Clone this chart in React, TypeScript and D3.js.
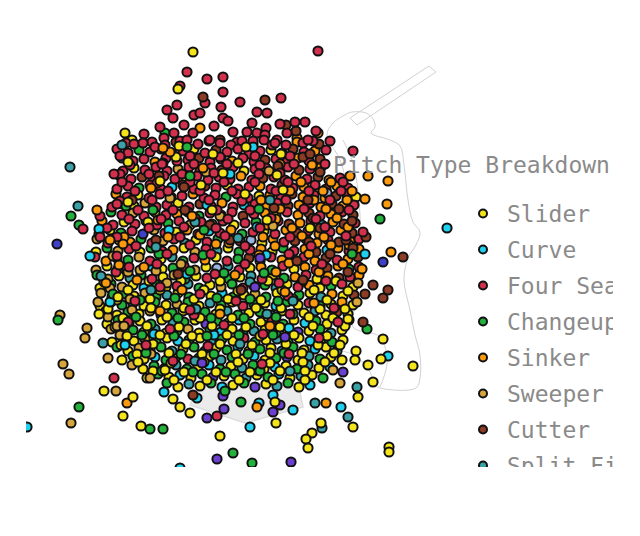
import { useEffect, useRef } from 'react';
import * as d3 from 'd3';

const WIDTH = 605;
const HEIGHT = 459;

const PITCH_TYPES = ['Slider', 'Curve', 'Four Seam', 'Changeup', 'Sinker', 'Sweeper', 'Cutter', 'Split Finger', 'Knuckle Curve', 'Slurve', 'Forkball'];
const PITCH_COLORS = ['#f5e31b', '#1fd0ef', '#d3304e', '#22b23c', '#fb9a0c', '#d6a53c', '#8c3b24', '#3aa1a7', '#6b40d0', '#3f40c9', '#98b5e2'];

// plate location (horizontal, height) per pitch type
const SLIDER = `
-11.8,36.0 -5.6,35.1 2.1,35.0 -11.6,33.2 -0.6,32.9 -6.4,32.2 -2.3,31.5
-11.2,30.5 0.9,30.4 10.6,30.3 -11.6,29.4 -7.2,29.7 -9.5,28.8 -2.9,28.5 2.6,28.4 -12.6,27.8 -1.6,27.5
-14.0,27.0 -7.4,26.8 1.4,26.9 -13.1,26.0 -5.4,26.0 1.2,25.7 -15.4,24.8 -11.0,24.8 -6.6,25.2 -2.2,25.2 2.2,24.8
-13.3,24.2 -8.9,24.1 -3.4,24.3 1.0,23.9 -14.3,23.4 -8.8,23.1 -4.4,23.3 0.0,23.2 4.4,23.1
-13.1,22.4 -8.7,22.3 -5.4,22.4 -1.0,22.3 2.3,22.5 6.7,22.1
-15.0,21.2 -11.7,21.5 -8.4,21.3 -4.0,21.5 0.4,21.4 3.7,21.6 7.0,21.2 10.3,21.3
-13.8,20.3 -11.6,20.4 -7.2,20.7 -3.9,20.4 -0.6,20.5 2.7,20.7 6.0,20.7 9.3,20.4
-15.0,19.4 -10.6,19.4 -8.4,19.5 -5.1,19.4 -1.8,19.8 1.5,19.7 4.8,19.5 8.1,19.6 10.3,19.5
-13.3,18.5 -11.1,18.6 -6.7,18.9 -3.4,18.6 -0.1,18.7 3.2,18.9 5.4,18.7 7.6,18.5 9.8,18.6
-14.3,17.6 -11.0,17.9 -8.8,18.0 -5.5,18.0 -2.2,17.7 1.1,17.8 4.4,18.0 7.7,17.6 9.9,18.0
-12.8,16.7 -10.6,16.8 -8.4,16.7 -5.1,16.7 -1.8,17.1 1.5,17.0 3.7,17.1 5.9,16.9 9.2,17.0
-13.8,15.8 -11.6,15.9 -8.3,16.2 -5.0,16.2 -1.7,15.9 1.6,16.0 4.9,16.2 7.1,16.1 9.3,16.0
-12.2,14.9 -10.0,15.0 -6.7,15.1 -3.4,15.2 -0.1,14.9 2.1,15.2 5.4,15.0 7.6,15.3
-12.8,14.0 -10.6,14.1 -7.3,14.4 -4.0,14.4 -0.7,14.1 1.5,14.0 4.8,14.0 8.1,14.3 9.2,14.0
-10.7,13.1 -8.5,13.2 -5.2,13.3 -1.9,13.4 1.4,13.1 3.6,13.4 6.9,13.2
-10.3,12.2 -8.1,12.3 -5.9,12.2 -2.6,12.4 0.7,12.5 4.0,12.2 6.2,12.5
-7.2,11.3 -5.0,11.4 -1.7,11.5 1.6,11.6 4.9,11.3
-14.6,21.8 -10.1,21.9 -6.9,21.9 -3.0,21.9 1.8,21.9 5.2,21.8 8.6,21.9
-12.2,21.0 -9.0,21.0 -4.6,21.0 -1.2,20.9 3.2,21.0 6.4,21.0 9.8,20.9
-13.3,20.0 -10.0,20.1 -5.6,20.1 -2.2,20.1 1.1,20.0 4.3,20.1 7.7,20.0
-14.2,19.1 -9.9,19.2 -6.6,19.2 -3.0,19.1 0.6,19.2 3.1,19.2 7.0,19.1 9.5,19.1
-12.7,18.2 -8.3,18.3 -5.0,18.2 -1.8,18.2 1.8,18.3 5.9,18.3 8.3,18.2
-13.5,17.3 -10.3,17.4 -7.1,17.3 -3.8,17.4 -0.4,17.3 3.0,17.3 6.3,17.4 9.5,17.4
-12.3,16.4 -9.0,16.5 -5.8,16.4 -2.3,16.5 1.0,16.4 4.4,16.5 7.7,16.4
-12.9,15.5 -9.7,15.6 -6.4,15.6 -3.0,15.6 0.2,15.5 3.6,15.6 6.8,15.5 9.0,15.5
-11.3,14.6 -8.1,14.7 -4.8,14.6 -1.4,14.6 2.0,14.7 5.2,14.7 8.4,14.7
-11.2,13.8 -7.9,13.7 -4.6,13.8 -1.2,13.8 2.0,13.7 5.3,13.8 7.5,13.8
-9.7,12.9 -6.6,12.8 -3.4,12.8 0.0,12.8 3.0,12.9 5.5,12.9 -7.6,12.0 -4.3,12.0 -1.1,12.0 2.3,12.0 5.5,12.0
-9.0,31.9 -4.9,31.5 -0.5,30.6 3.3,31.0 -10.2,27.8 -3.8,29.0 1.7,28.0 6.0,27.2 -12.2,33.8 -7.4,34.3 -1.2,33.7 3.1,34.6
-5.7,44.8 -7.2,41.1 -12.5,36.7 -7.1,35.4 -3.7,34.6 -0.4,35.3 2.7,32.5 -2.7,32.7
9.8,18.1 13.3,16.1 13.1,14.1 11.8,13.5 16.3,13.4 10.6,14.9 10.5,14.0 12.3,11.8 10.8,10.3 10.3,7.3
13.9,5.3 13.9,4.8 7.1,7.7 6.2,6.7 5.6,6.1 5.8,5.2
2.6,7.7 -3.0,6.4 2.5,9.8 -7.7,10.1 -7.0,9.3 -6.0,8.7 -8.5,13.0 -10.9,7.4 -12.7,8.4 -11.7,10.3 -14.6,10.9
-12.2,29.8 -13.2,20.3 -15.1,18.6`;

const CURVE = `
-12.8,34.2 -7.8,31.3 -0.6,29.5 7.2,27.5 -4.1,26.9 7.7,25.0 -9.9,23.4 -10.6,21.2 -2.8,20.7
2.6,19.4 -8.9,18.5 -1.1,18.0 5.5,17.7 -2.9,16.8 -7.2,15.9 6.0,15.9 -1.2,15.3 6.5,15.1 -9.5,14.3
0.4,14.4 -4.1,13.5 2.5,13.3 8.0,13.3 -7.0,12.5 2.9,12.6 -2.8,11.3 6.0,11.5 -8.7,33.7 0.3,35.3
-6.3,22.6 3.9,17.2 -3.6,16.5 0.7,13.0 -9.6,16.6 -4.3,29.5 0.7,27.3 -8.1,27.0 -2.0,32.6 1.6,24.5
19.7,27.2 11.5,24.6 13.8,14.4 9.1,9.3 4.3,9.0 0.0,7.3 -7.0,3.2 2.3,10.5 0.9,9.7 -5.3,10.2 -8.6,10.8
-22.3,7.3 -15.1,27.1 -16.0,24.4 -14.0,19.8 -12.5,15.5`;

const FOUR_SEAM = `
-8.3,39.0 -7.3,39.5 -7.7,38.2 -5.6,38.5 -5.0,38.7 -4.5,39.7 -2.9,39.3 -2.7,38.2 -1.0,39.8 3.1,40.2
0.7,38.8 1.7,38.7 4.5,37.8 5.5,37.8 6.6,36.9 -1.7,36.8 0.2,37.7 -0.3,36.8 0.7,36.7 -5.7,36.7
-4.0,36.0 -1.3,35.8 -9.8,35.8 -7.6,36.7 -12.4,35.7 -11.6,35.6 3.7,36.7 5.3,35.7 2.7,36.0 2.2,35.5
6.8,44.9 -6.3,42.8 -4.3,42.1 -2.7,42.3 -7.0,41.4 -2.7,40.8
-10.6,36.6 -9.0,37.3 -3.6,37.4 -2.2,37.9 1.6,37.2 3.0,37.6 -6.6,37.5 -8.6,36.2 -7.0,35.9 0.3,35.9 1.5,36.5 6.3,35.9
-10.7,35.7 -8.5,35.5 -6.3,36.0 -5.2,35.6 -3.0,35.7 -1.9,35.5 -0.8,35.9 1.4,36.0 2.5,35.7 3.6,35.5 5.8,36.0 8.0,35.9
-13.3,35.1 -12.2,34.7 -10.0,34.8 -8.9,35.1 -7.8,34.6 -6.7,34.9 -4.5,34.7 -2.3,34.8 -1.2,35.1 -0.1,34.6 1.0,34.9 3.2,34.7 5.4,34.8 7.6,35.0
-11.7,33.9 -10.6,34.1 -8.4,34.2 -7.3,33.9 -6.2,34.0 -4.0,33.8 -2.9,34.1 -0.7,34.2 0.4,33.8 2.6,34.1 3.7,33.8 5.9,33.9
-12.7,32.9 -10.5,33.0 -9.4,33.3 -8.3,32.9 -6.1,33.3 -5.0,32.9 -3.9,33.2 -1.7,33.3 0.5,33.1 1.6,33.2 3.8,33.3 6.0,33.1
-11.9,32.1 -9.7,32.0 -8.6,32.4 -7.5,32.1 -5.3,32.4 -4.2,32.0 -3.1,32.3 -2.0,32.1 0.2,32.0 2.4,32.3 3.5,32.0 5.7,32.1 9.0,32.2
-13.3,31.1 -12.2,31.4 -10.0,31.5 -8.9,31.1 -6.7,31.5 -5.6,31.1 -3.4,31.2 -1.2,31.1 -0.1,31.3 2.1,31.1 4.3,31.2 6.5,31.5 9.8,31.2
-12.3,30.3 -10.1,30.2 -9.0,30.6 -6.8,30.4 -4.6,30.2 -3.5,30.5 -1.3,30.6 -0.2,30.2 3.1,30.2 6.4,30.5 9.7,30.6
-13.8,29.3 -12.7,29.6 -9.4,29.3 -8.3,29.5 -6.1,29.3 -3.9,29.4 -1.7,29.3 0.5,29.6 2.7,29.7 6.0,29.7 10.4,29.5
-15.0,28.4 -12.8,28.5 -10.6,28.4 -8.4,28.5 -6.2,28.8 -4.0,28.7 -1.8,28.8 0.4,28.6 3.7,28.8 7.0,28.4 9.2,28.8
-13.7,27.5 -11.5,27.6 -9.3,27.5 -7.1,27.9 -4.9,27.8 -2.7,27.9 -0.5,27.7 2.8,27.9 6.1,27.9 10.5,27.7
-15.1,26.6 -11.8,26.9 -8.5,26.7 -5.2,26.6 -3.0,26.7 0.3,26.8 2.5,26.6 5.8,26.9 8.0,26.8
-14.2,25.7 -9.8,25.7 -7.6,26.1 -4.3,25.8 -1.0,25.9 3.4,25.8 7.8,26.0 10.9,26.1
-12.1,25.1 -8.8,24.9 -4.4,25.1 0.0,25.0 4.4,24.9 9.9,24.9
-15.5,24.3 -10.0,23.9 -5.6,24.2 -2.3,23.9 2.1,24.3 5.4,24.3 8.7,24.0
-12.1,23.3 -6.6,23.4 -1.1,23.0 3.3,23.4 6.6,23.0 10.9,23.3
-9.8,22.1 -4.3,22.2 1.2,22.1 5.6,22.5 10.0,22.3 -7.3,21.4 -0.7,21.2 4.8,21.3 9.2,21.6
-5.0,20.6 3.8,20.4 -0.7,19.4 5.9,19.7 -5.6,18.5 2.2,17.9 8.8,17.8 -0.6,16.2 -6.2,14.1
-13.0,34.4 -9.5,35.3 -6.0,34.4 -3.0,34.3 0.5,34.4 4.0,34.4
-12.0,33.5 -8.8,33.6 -5.6,33.6 -2.3,33.6 1.0,33.5 4.4,33.6 7.5,33.6
-13.0,32.6 -10.1,32.6 -6.8,32.6 -3.6,32.7 0.9,32.6 3.0,32.7
-12.8,31.8 -9.3,31.7 -6.0,31.8 -2.6,31.8 0.5,31.8 3.8,31.8 9.3,31.8
-11.5,30.9 -8.2,30.9 -5.0,30.9 -1.8,30.9 2.6,30.9 5.9,30.9 9.1,30.9
-13.0,29.9 -9.8,30.0 -4.1,30.0 -0.8,29.9 3.6,30.0 8.0,30.0
-11.2,29.0 -7.7,29.0 -3.3,29.0 0.0,29.0 5.4,29.1 9.9,29.0
-12.1,28.1 -8.9,28.1 -5.5,28.2 -2.2,28.1 2.1,28.2 6.6,28.1
-14.3,27.2 -10.1,27.2 -6.6,27.3 -3.4,27.2 1.0,27.2 7.5,27.3
-13.3,26.3 -7.0,26.3 -2.5,26.4 4.0,26.3 9.6,26.4 -11.4,25.4 -6.0,25.5 -0.5,25.4 6.1,25.4
-8.3,24.6 -3.9,24.6 3.9,24.6 -9.3,23.6 -0.5,23.6 7.2,23.6
-9.0,21.3 -3.5,22.6 2.9,21.7 7.6,21.9 -11.5,19.9 -6.0,19.0 -1.4,19.9 4.0,18.6 8.4,19.2 -8.0,17.1
-2.6,17.5 1.3,16.6 6.9,16.2 -10.4,15.5 -4.2,15.4 3.9,14.6 -7.7,13.9 1.2,13.6 -12.2,17.8 -13.4,22.8
11.3,26.8 10.3,34.9 -3.3,8.4 -13.6,12.2 -13.6,32.6 -16.7,27.1 -15.0,26.3 -13.3,29.6 -13.3,24.4`;

const CHANGEUP = `
-8.5,36.7 -11.1,35.0 -11.1,31.2 -2.4,30.3 -13.9,28.8 -5.1,28.4 -8.2,27.7 0.6,27.8 -12.9,26.7 -0.8,26.6
-10.9,26.1 -3.2,26.1 5.6,26.1 -14.3,25.2 -9.9,25.2 -1.1,24.8 3.3,25.2 -12.2,24.0 -6.7,23.9 -1.2,24.1
-13.2,23.1 -7.7,23.2 -3.3,23.1 2.2,23.0 9.9,23.1 -15.3,22.5 -10.9,22.5 -6.5,22.1 -2.1,22.1 3.4,22.2
-13.9,21.6 -9.5,21.6 -5.1,21.2 -1.8,21.6 1.5,21.5 8.1,21.4 -12.7,20.6 -9.4,20.3 -6.1,20.3 -1.7,20.3 1.6,20.3 4.9,20.5
-12.8,19.5 -9.5,19.8 -6.2,19.8 -2.9,19.5 0.4,19.6 3.7,19.8 7.0,19.4 -12.2,18.8 -7.8,18.7 -4.5,18.8 -1.2,18.5 1.0,18.8 4.3,18.6
-13.2,18.0 -9.9,17.6 -6.6,17.8 -3.3,17.9 0.0,17.6 3.3,17.6 6.6,17.9 -11.7,17.0 -7.3,16.9 -4.0,17.0 -0.7,16.7 2.6,16.7 7.0,17.1
-12.7,16.2 -9.4,15.8 -6.1,16.0 -2.8,16.1 0.5,15.8 3.8,15.8 8.2,15.8 -13.3,15.3 -8.9,15.3 -5.6,15.3 -2.3,15.0 1.0,15.1 4.3,15.3
-11.7,14.4 -8.4,14.0 -5.1,14.2 -1.8,14.3 2.6,14.2 7.0,14.1 -9.6,13.4 -6.3,13.1 -3.0,13.1 0.3,13.5 4.7,13.1
-9.2,12.6 -4.8,12.6 -1.5,12.6 1.8,12.3 7.3,12.2 -8.3,11.7 -3.9,11.7 -0.6,11.7 3.8,11.7
-11.0,20.0 -7.5,20.2 -3.3,20.2 0.0,20.1 2.8,19.9 -11.4,18.3 -7.2,18.2 -3.9,18.2 -0.6,18.2 2.6,18.3
-10.8,16.5 -7.6,16.4 -4.3,16.4 -1.1,16.5 2.3,16.5 -10.4,14.7 -6.9,14.6 -3.6,14.6 -0.2,14.6 3.4,14.7
-8.8,12.9 -5.7,12.8 -2.4,12.8 1.0,12.9 -6.0,22.9 -2.6,22.7 1.4,22.7 -9.1,24.6 -4.7,24.5
-9.7,29.0 -4.6,27.0 0.9,29.1 -12.4,29.4 -6.0,32.4
-6.3,35.3 13.0,28.1 10.2,24.6 11.7,17.1 -1.7,4.7 0.2,3.7 -0.9,9.8 -2.5,10.9 -10.0,7.1 -8.7,7.1
-17.1,9.3 -17.9,28.4 -17.1,27.5 -13.7,20.6 -19.2,18.0`;

const SINKER = `
-5.0,37.2 4.7,36.2 1.3,36.5 6.8,36.7 -4.1,35.9 4.7,35.8 6.5,34.9 -9.5,33.8 -1.8,33.9 4.8,34.2
2.7,32.9 7.1,33.3 -13.0,32.4 -0.9,32.4 4.6,32.4 7.9,32.0 10.0,32.4 1.0,31.4 5.4,31.3 8.7,31.4
-13.4,30.6 -5.7,30.6 2.0,30.5 5.3,30.3 7.5,30.2 -2.8,29.7 1.6,29.3 4.9,29.5 7.1,29.3 9.3,29.4
-7.3,28.6 1.5,28.7 4.8,28.5 8.1,28.6 -14.8,27.9 -3.8,27.6 1.7,27.5 5.0,27.7 8.3,27.8
-6.3,27.0 -1.9,27.0 3.6,27.0 6.9,26.6 9.1,27.0 -12.0,25.8 -2.1,25.7 2.3,26.1 6.7,25.7 10.0,25.9
-7.7,25.0 1.1,25.1 5.5,25.1 8.8,25.2 10.9,25.1 -14.4,23.9 -4.5,24.0 3.2,24.0 6.5,23.9 9.8,24.1
1.1,23.3 5.5,23.3 8.8,23.4 -3.2,22.5 4.5,22.3 7.8,22.4 10.9,22.5 5.9,21.5 8.2,20.6 9.2,19.8
3.0,33.6 6.2,33.5 5.1,31.8 8.1,31.8 4.0,30.9 7.3,30.9 10.2,30.9 1.1,30.0 6.4,30.0 9.7,30.0
3.0,29.1 7.6,29.1 2.6,28.1 8.7,28.2 4.2,27.2 9.8,27.3 1.3,26.3 5.2,26.4 7.4,26.3 2.5,25.4
8.1,25.5 9.9,25.5 0.9,24.5 5.9,24.6 3.9,23.7 9.3,23.6 6.9,22.8 2.6,22.8 -5.0,26.5 -9.2,28.0 -12.6,26.3
-11.3,22.0 -6.8,21.0 -1.5,22.5 3.5,20.8 -9.0,18.9 -3.0,18.6 2.0,17.4 6.4,19.7 -12.7,25.6 -8.2,26.3
-3.4,25.6 -10.6,23.3 -14.0,26.0 -5.8,28.4 -9.9,31.2 -4.7,33.2 -8.0,34.8
-8.7,35.2 11.8,32.4 13.8,31.9 11.5,30.1 13.7,29.6 14.1,24.8 11.2,23.1 7.6,9.7
0.7,9.3 -12.3,9.7 -15.3,29.0 -13.1,23.5 -14.4,21.7`;

const SWEEPER = `
-7.2,33.1 -10.5,29.7 -11.7,28.7 -6.0,27.5 -9.6,27.0 -15.3,26.1 -8.7,25.9 -13.2,24.9 -5.5,24.8
-11.1,24.3 -15.4,23.0 -11.0,23.0 -5.5,23.0 -14.2,22.1 -7.6,22.5 -12.8,21.3 -2.9,21.3 -14.9,20.7 -10.5,20.7
0.5,20.6 -13.9,19.8 -7.3,19.6 -14.4,18.9 -10.0,18.9 -12.1,17.7 -13.9,17.1 -6.2,17.1 -10.5,16.1 -11.1,15.2
-13.7,24.4 -12.2,22.8 -9.4,22.9 -14.0,21.2 -12.0,20.1 -8.3,21.7 -14.2,18.3 -11.8,19.0 -13.0,16.5 -9.9,14.6 -6.9,23.6
-8.0,30.2 -3.0,28.4 2.3,27.4
-11.8,13.5 -4.4,32.8 1.9,32.9 10.8,21.7 10.7,19.8 8.3,13.0 9.0,11.7 -10.0,12.2 -17.9,7.7 -13.4,10.9
-18.7,13.6 -18.1,12.6 -15.2,19.8 -19.0,18.5 -16.3,17.2 -16.5,16.2 -14.2,14.2 -13.3,17.4 -12.6,17.4`;

const CUTTER = `
3.6,37.5 4.6,36.9 -3.0,36.0 -7.4,35.8 0.3,35.6 6.9,35.6 -3.4,35.0 4.3,35.1
-5.1,34.2 1.5,34.0 7.0,34.1 -2.8,33.0 4.9,33.0 -10.8,32.3 1.3,32.2 6.8,32.3 -4.5,31.4
3.2,31.5 7.6,31.1 -7.9,30.3 4.2,30.6 8.6,30.4 -5.0,29.6 3.8,29.4 8.2,29.6 -0.7,28.4 5.9,28.7
10.3,28.5 3.9,27.6 9.4,27.6 4.7,26.7 10.2,26.7 4.5,25.9 8.9,25.8 6.6,24.8 -0.1,24.2 7.6,24.2
10.8,24.3 7.7,23.2 8.9,22.2 10.4,20.5 8.7,18.8 1.5,40.0 -4.7,40.3 -9.1,32.4 5.3,34.3
6.0,34.6 2.8,33.4 7.0,32.8 5.8,30.0 2.4,29.2 8.9,29.1 6.3,28.2 10.2,27.9 7.0,27.2 9.6,26.0
5.9,25.8 10.3,25.2 8.0,24.6 4.7,23.9 9.8,22.8 -6.6,31.3
-9.4,26.0 -4.0,27.5 -11.8,30.0 -6.5,29.0 -2.0,26.0 -7.2,22.6 -0.9,21.0 5.3,22.0
11.6,26.3 15.3,24.3 12.3,21.5 13.8,21.0 13.3,20.2 11.5,20.6 11.3,17.8 -5.7,10.5`;

const SPLIT_FINGER = `
-10.4,27.9 -6.5,25.7 -3.3,24.9 -7.8,24.3 4.3,24.1 -2.2,23.4 -12.0,22.2 0.1,22.4 -6.2,21.6 2.6,21.2
-8.3,20.5 7.1,20.3 -11.7,19.7 -4.0,19.7 -2.3,18.9 2.1,18.5 6.5,18.9 -7.7,17.7 -9.5,17.1 0.4,16.9
8.1,16.7 -3.9,15.8 2.7,16.1 -7.8,14.9 3.2,14.9 8.7,14.9 -2.9,14.0 5.9,14.4 -7.4,13.5 -0.8,13.2
5.8,13.5 -0.4,12.2 5.1,12.4 -6.1,11.6 2.7,11.4 -12.8,35.5 10.7,11.3 9.8,8.3 6.5,9.7 7.2,7.2
-9.9,21.0 -5.4,19.1 0.0,21.8 4.3,19.9 -1.0,15.6 -5.5,13.9 4.0,12.9 1.7,18.6
-5.5,27.8 -1.2,26.2 2.0,30.0 -9.4,25.3
-18.0,33.3 -17.2,29.4 -14.9,22.4 -14.7,15.7`;

const KNUCKLE_CURVE = `
-4.4,17.6 4.8,16.8 -4.5,14.9 3.7,14.3 -3.7,12.3 0.5,11.3 9.3,12.8 -3.3,4.1 4.1,3.8 2.3,8.8
3.0,9.5 -4.3,8.2 -2.6,9.1 -2.7,10.4 0.5,21.3 1.0,24.2 3.5,16.3 -4.8,13.7`;

const SLURVE = `-10.7,26.6 13.3,23.8 -19.3,25.6`;

const FORKBALL = `0.1,26.0 7.7,30.7 -3.3,23.2`;

const PITCH_LOCATIONS = [SLIDER, CURVE, FOUR_SEAM, CHANGEUP, SINKER, SWEEPER, CUTTER, SPLIT_FINGER, KNUCKLE_CURVE, SLURVE, FORKBALL];

// backdrop: home plate and a batter outline, same units as the pitches
const HOME_PLATE: [number, number][] = [[-5.0, 11.7], [4.8, 11.7], [5.3, 9.3], [-0.5, 7.7], [-6.0, 9.5]];
const BAT: [number, number][] = [[10.0, 38.2], [17.9, 43.4], [18.6, 42.8], [10.7, 37.5]];
const BATTER_BODY: [number, number][] = [
  [7.7, 36.5], [8.3, 37.7], [9.3, 38.4], [10.2, 38.8], [11.6, 38.7], [12.3, 38.1], [12.5, 37.3], [12.1, 36.7],
  [14.0, 36.0], [15.0, 35.4], [15.4, 33.5], [15.8, 30.0], [16.3, 27.8], [17.0, 26.8], [16.6, 25.5], [15.8, 24.2],
  [15.4, 22.0], [16.0, 19.0], [16.5, 16.5], [17.0, 14.5], [17.0, 12.2], [16.6, 11.2], [13.5, 11.1], [12.5, 11.5],
  [12.0, 12.8], [10.6, 14.4], [9.0, 15.0], [8.2, 15.5], [9.5, 17.0], [10.0, 21.0], [10.5, 25.0], [10.0, 30.0], [9.0, 34.0],
];
const BATTER_ARM: [number, number][] = [[9.3, 36.0], [10.2, 34.0], [10.7, 31.7], [11.0, 28.5], [11.0, 25.7]];
const BATTER_LEG: [number, number][] = [[10.3, 23.0], [10.7, 20.3], [10.3, 17.3], [13.0, 16.3], [13.7, 13.7], [13.0, 11.3]];

const FONT = '"DejaVu Sans Mono", "Liberation Mono", monospace';
const TEXT_COLOR = '#8a8a8a';

function parsePoints(s: string): [number, number][] {
  return s.trim().split(/\s+/).map((p) => p.split(',').map(Number) as [number, number]);
}

export default function App() {
  const svgRef = useRef<SVGSVGElement>(null);

  useEffect(() => {
    if (!svgRef.current) return;
    const svg = d3.select(svgRef.current);
    svg.selectAll('*').remove();

    const x = d3.scaleLinear().domain([-20, 20]).range([42, 442]);
    const y = d3.scaleLinear().domain([0, 45]).range([492, 42]);
    const color = d3.scaleOrdinal<string, string>().domain(PITCH_TYPES).range(PITCH_COLORS);

    svg.append('defs').append('clipPath').attr('id', 'plot-clip')
      .append('rect').attr('x', 18).attr('y', 0).attr('width', WIDTH - 18).attr('height', HEIGHT);

    const line = (curve: d3.CurveFactory) =>
      d3.line<[number, number]>().x((d) => x(d[0])).y((d) => y(d[1])).curve(curve);

    // home plate
    svg.append('path')
      .attr('d', line(d3.curveLinearClosed)(HOME_PLATE))
      .attr('fill', '#ebebeb')
      .attr('stroke', '#dddddd')
      .attr('stroke-width', 1.5);

    // batter outline
    const sketch = svg.append('g').attr('fill', 'none').attr('stroke', '#d2d2d2').attr('stroke-width', 1);
    sketch.append('path').attr('d', line(d3.curveLinearClosed)(BAT));
    sketch.append('path').attr('d', line(d3.curveCatmullRomClosed)(BATTER_BODY));
    sketch.append('path').attr('d', line(d3.curveCatmullRom)(BATTER_ARM));
    sketch.append('path').attr('d', line(d3.curveCatmullRom)(BATTER_LEG));

    // pitches, interleaved so no type sits entirely on top
    type Pitch = { type: string; px: number; pz: number; order: number };
    const pitches: Pitch[] = [];
    PITCH_LOCATIONS.forEach((s, t) => {
      const pts = parsePoints(s);
      pts.forEach(([px, pz], i) => pitches.push({ type: PITCH_TYPES[t], px, pz, order: (i + 0.5) / pts.length }));
    });
    pitches.sort((a, b) => a.order - b.order);

    svg.append('g')
      .attr('clip-path', 'url(#plot-clip)')
      .selectAll('circle')
      .data(pitches)
      .join('circle')
      .attr('cx', (d) => x(d.px))
      .attr('cy', (d) => y(d.pz))
      .attr('r', 4.6)
      .attr('fill', (d) => color(d.type))
      .attr('stroke', '#111')
      .attr('stroke-width', 2);

    // title
    svg.append('text')
      .attr('x', 325)
      .attr('y', 157)
      .attr('dominant-baseline', 'central')
      .attr('font-family', FONT)
      .attr('font-size', 23)
      .attr('fill', TEXT_COLOR)
      .text('Pitch Type Breakdown');

    // legend
    const legend = svg.append('g')
      .selectAll('g')
      .data(PITCH_TYPES)
      .join('g')
      .attr('transform', (_, i) => `translate(475,${205.5 + i * 36})`);

    legend.append('circle')
      .attr('r', 4)
      .attr('fill', (d) => color(d))
      .attr('stroke', '#111')
      .attr('stroke-width', 2);

    legend.append('text')
      .attr('x', 24)
      .attr('dominant-baseline', 'central')
      .attr('font-family', FONT)
      .attr('font-size', 23)
      .attr('fill', TEXT_COLOR)
      .text((d) => d);
  }, []);

  return <svg ref={svgRef} width={WIDTH} height={HEIGHT} style={{ display: 'block', overflow: 'hidden' }} />;
}
